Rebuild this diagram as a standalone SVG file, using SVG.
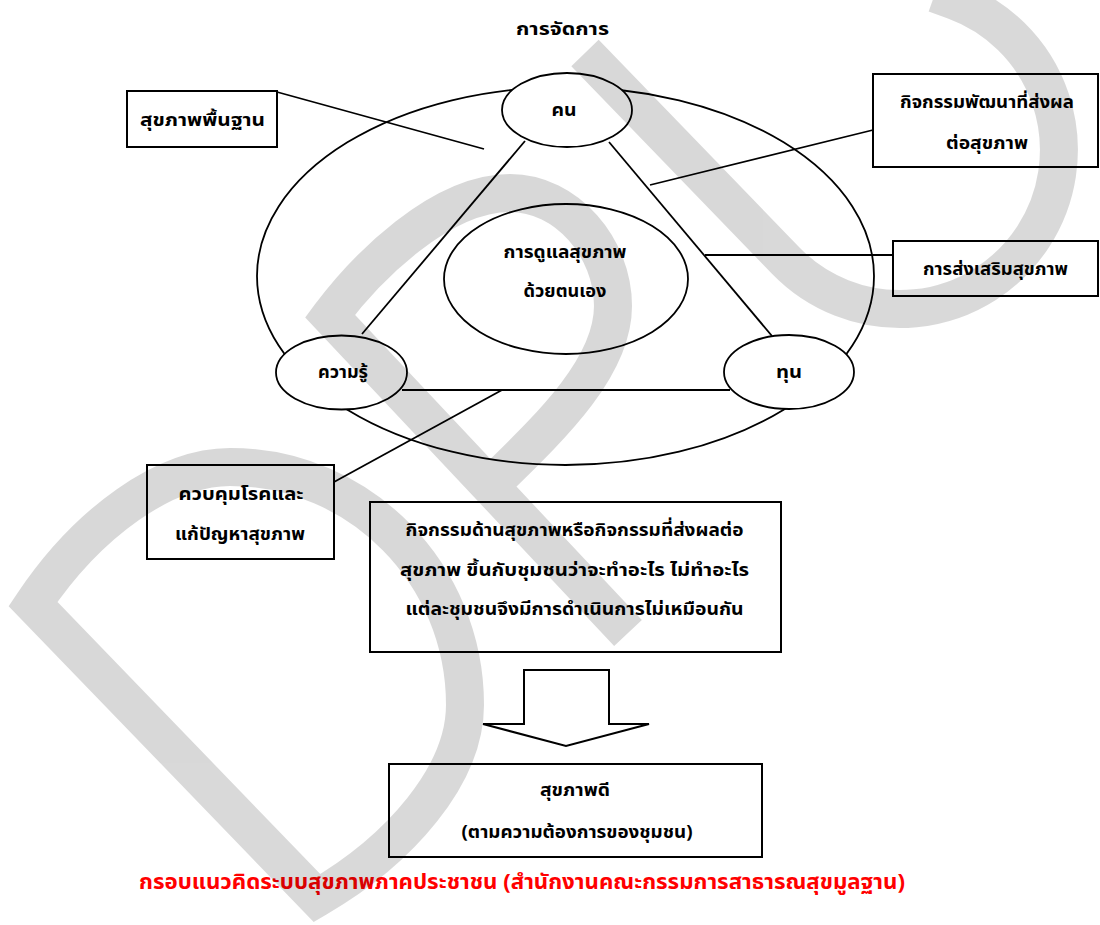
<svg xmlns="http://www.w3.org/2000/svg" width="1100" height="925" viewBox="0 0 1100 925">
<style>
.ln{fill:none;stroke:#000;stroke-width:1.8}
.el{fill:#fff;stroke:#000;stroke-width:1.8}
.bx{fill:none;stroke:#000;stroke-width:2}
.t{font-family:'Noto Sans Thai','Noto Sans','DejaVu Sans',sans-serif;font-size:17px;font-weight:bold;fill:#000;text-anchor:middle}
.r{font-family:'Noto Sans Thai','Noto Sans','DejaVu Sans',sans-serif;font-size:21px;font-weight:bold;fill:#f00;text-anchor:middle}
.wm{fill:none;stroke:#000;stroke-width:38;stroke-linejoin:miter;stroke-miterlimit:4}
</style>
<rect width="1100" height="925" fill="#fff"/>
<g id="connectors">
<ellipse class="ln" cx="565.5" cy="276" rx="308.5" ry="189"/>
<line class="ln" x1="525" y1="141" x2="362" y2="334"/>
<line class="ln" x1="609" y1="142" x2="772" y2="336"/>
<line class="ln" x1="402" y1="390" x2="730" y2="390"/>
<line class="ln" x1="277" y1="92" x2="484" y2="149"/>
<line class="ln" x1="873" y1="130" x2="650" y2="185"/>
<line class="ln" x1="705" y1="255" x2="893" y2="255"/>
<line class="ln" x1="334" y1="482" x2="502" y2="390"/>
</g>
<g id="title"><text class="t" x="562.5" y="35" textLength="93" lengthAdjust="spacingAndGlyphs">การจัดการ</text></g>
<g id="node-kon"><ellipse class="el" cx="567" cy="110" rx="65" ry="37"/><text class="t" x="564" y="116" textLength="25" lengthAdjust="spacingAndGlyphs">คน</text></g>
<g id="node-knowledge"><ellipse class="el" cx="341.5" cy="372.5" rx="65.5" ry="37"/><text class="t" x="343" y="378" textLength="50" lengthAdjust="spacingAndGlyphs">ความรู้</text></g>
<g id="node-capital"><ellipse class="el" cx="789" cy="372" rx="65" ry="37"/><text class="t" x="789" y="378" textLength="26" lengthAdjust="spacingAndGlyphs">ทุน</text></g>
<g id="node-selfcare"><ellipse class="el" cx="566" cy="279" rx="122" ry="75"/>
<text class="t" x="565" y="258" textLength="123" lengthAdjust="spacingAndGlyphs">การดูแลสุขภาพ</text>
<text class="t" x="565" y="297" textLength="83" lengthAdjust="spacingAndGlyphs">ด้วยตนเอง</text></g>
<g id="node-basic"><rect class="bx" x="127" y="91" width="150" height="56"/><text class="t" x="202.5" y="126" textLength="125" lengthAdjust="spacingAndGlyphs">สุขภาพพื้นฐาน</text></g>
<g id="node-dev"><rect class="bx" x="873" y="74" width="225" height="93"/>
<text class="t" x="987" y="108" textLength="174" lengthAdjust="spacingAndGlyphs">กิจกรรมพัฒนาที่ส่งผล</text>
<text class="t" x="987" y="148.5" textLength="82" lengthAdjust="spacingAndGlyphs">ต่อสุขภาพ</text></g>
<g id="node-promo"><rect class="bx" x="893" y="241" width="205" height="55"/><text class="t" x="995.5" y="275" textLength="145" lengthAdjust="spacingAndGlyphs">การส่งเสริมสุขภาพ</text></g>
<g id="node-control"><rect class="bx" x="147" y="465" width="187" height="94"/>
<text class="t" x="241" y="500" textLength="125" lengthAdjust="spacingAndGlyphs">ควบคุมโรคและ</text>
<text class="t" x="240" y="539.5" textLength="130" lengthAdjust="spacingAndGlyphs">แก้ปัญหาสุขภาพ</text></g>
<g id="node-activity"><rect class="bx" x="370" y="502" width="411" height="150"/>
<text class="t" x="574.6" y="535.5" textLength="338" lengthAdjust="spacingAndGlyphs">กิจกรรมด้านสุขภาพหรือกิจกรรมที่ส่งผลต่อ</text>
<text class="t" x="574.6" y="575.5" textLength="349" lengthAdjust="spacingAndGlyphs">สุขภาพ ขึ้นกับชุมชนว่าจะทำอะไร ไม่ทำอะไร</text>
<text class="t" x="574.6" y="614.5" textLength="338" lengthAdjust="spacingAndGlyphs">แต่ละชุมชนจึงมีการดำเนินการไม่เหมือนกัน</text></g>
<g id="arrow"><polygon class="bx" points="524,670 609,670 609,724 649,724 566,746 483,724 524,724"/></g>
<g id="node-result"><rect class="bx" x="389" y="764" width="373" height="93"/>
<text class="t" x="575" y="796" textLength="70" lengthAdjust="spacingAndGlyphs">สุขภาพดี</text>
<text class="t" x="577" y="837.5" textLength="231" lengthAdjust="spacingAndGlyphs">(ตามความต้องการของชุมชน)</text></g>
<g id="caption"><text class="r" x="522" y="889" textLength="766" lengthAdjust="spacingAndGlyphs">กรอบแนวคิดระบบสุขภาพภาคประชาชน (สำนักงานคณะกรรมการสาธารณสุขมูลฐาน)</text></g>
<g id="watermark" opacity="0.15">
<path class="wm" d="M 33 604 C 88 522 165 467 230 467 C 360 467 465 574 465 705 C 465 775 400 850 317 898 Z"/>
<path class="wm" d="M 628 633 L 330 316 C 366 268 440 193 510 193 C 567 193 613 248 613 306 C 613 370 545 432 490 486"/>
<path class="wm" d="M 585 53 L 785.6 260.5 A 159 159 0 1 0 954.4 0.6 L 935 -6.3"/>
</g>
</svg>
